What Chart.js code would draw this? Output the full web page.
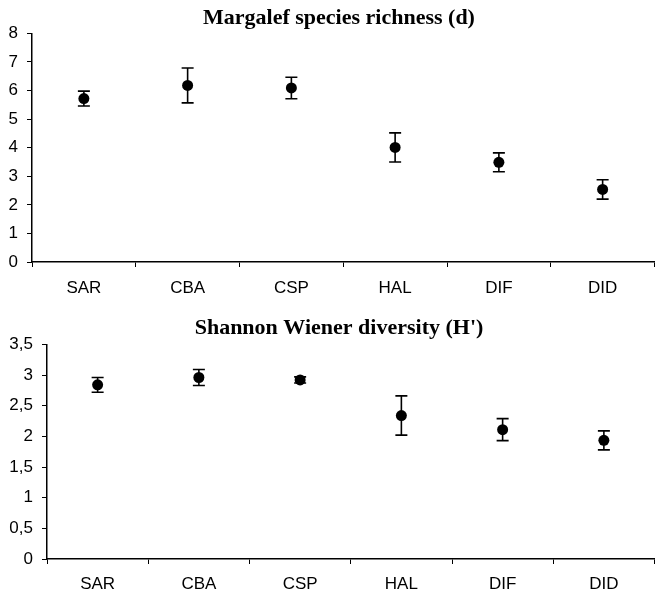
<!DOCTYPE html>
<html>
<head>
<meta charset="utf-8">
<script src="https://cdn.jsdelivr.net/npm/chart.js@4/dist/chart.umd.min.js"></script>
<style>
  html, body { margin: 0; padding: 0; background: #fff; overflow: hidden; width: 656px; height: 591px; }
  .wrap { position: absolute; left: 0; width: 660px; }
  #w1 { top: 0; height: 295px; }
  #w2 { top: 295px; height: 296px; }
  canvas { display: block; }
</style>
</head>
<body>
<div class="wrap" id="w1"><canvas id="c1" width="660" height="295"></canvas></div>
<div class="wrap" id="w2"><canvas id="c2" width="660" height="296"></canvas></div>
<script>
// ---- Data ----
const categories = ["SAR", "CBA", "CSP", "HAL", "DIF", "DID"];

const titleRichness = "Margalef species richness (d)";
const richnessMean = [5.72, 6.18, 6.09, 4.01, 3.49, 2.54];
const richnessErr  = [0.26, 0.61, 0.375, 0.51, 0.33, 0.34];

const titleShannon = "Shannon Wiener diversity (H')";
const shannonMean = [2.84, 2.96, 2.92, 2.34, 2.11, 1.935];
const shannonErr  = [0.12, 0.13, 0.05, 0.32, 0.18, 0.155];

// ---- Error bar plugin (uses the chart's own scales) ----
const errorBars = {
  id: 'errorBars',
  afterDatasetsDraw(chart) {
    const ctx = chart.ctx;
    const yScale = chart.scales.y;
    chart.data.datasets.forEach((ds, di) => {
      const meta = chart.getDatasetMeta(di);
      const errs = ds.errors || [];
      ctx.save();
      ctx.strokeStyle = '#000';
      ctx.lineWidth = 1.6;
      meta.data.forEach((pt, i) => {
        const v = ds.data[i];
        const e = errs[i] || 0;
        const x = pt.x;
        const yt = yScale.getPixelForValue(v + e);
        const yb = yScale.getPixelForValue(v - e);
        const cap = 6;
        ctx.beginPath();
        ctx.moveTo(x, yt); ctx.lineTo(x, yb);
        ctx.moveTo(x - cap, yt); ctx.lineTo(x + cap, yt);
        ctx.moveTo(x - cap, yb); ctx.lineTo(x + cap, yb);
        ctx.stroke();
      });
      ctx.restore();
    });
  }
};

// shift the title block's left edge so its centre sits where the reference has it
const titleShift = {
  id: 'titleShift',
  afterLayout(chart) {
    if (chart.titleBlock) chart.titleBlock.left += 20;
  }
};

function makeChart(id, title, values, errors, yMax, step, yWidth, xHeight, xPad, titlePad, comma) {
  return new Chart(document.getElementById(id), {
    type: 'line',
    data: {
      labels: categories,
      datasets: [{
        data: values,
        errors: errors,
        showLine: false,
        pointRadius: 5.5,
        pointHoverRadius: 5.5,
        pointBackgroundColor: '#000',
        pointBorderColor: '#000',
        pointBorderWidth: 0
      }]
    },
    options: {
      responsive: false,
      animation: false,
      events: [],
      layout: { padding: { left: 0, right: 2, top: 0, bottom: 0 } },
      plugins: {
        legend: { display: false },
        tooltip: { enabled: false },
        title: {
          display: true,
          text: title,
          color: '#000',
          font: { family: 'Liberation Serif', weight: 'bold', size: 22 },
          padding: titlePad
        }
      },
      scales: {
        x: {
          type: 'category',
          offset: true,
          grid: { offset: true, drawOnChartArea: false, drawTicks: true, tickLength: 5, color: '#000', lineWidth: 1 },
          border: { display: true, color: '#000', width: 1.5 },
          ticks: { color: '#000', font: { family: 'Liberation Sans', size: 17 }, padding: xPad, maxRotation: 0 },
          afterFit(scale) { scale.height = xHeight; }
        },
        y: {
          min: 0,
          max: yMax,
          grid: { drawOnChartArea: false, drawTicks: true, tickLength: 5, color: '#000', lineWidth: 1 },
          border: { display: true, color: '#000', width: 1.5 },
          ticks: {
            stepSize: step,
            color: '#000',
            font: { family: 'Liberation Sans', size: 17 },
            padding: 9,
            callback: (v) => comma ? String(v).replace('.', ',') : String(v)
          },
          afterFit(scale) { scale.width = yWidth; }
        }
      }
    },
    plugins: [errorBars, titleShift]
  });
}

makeChart('c1', titleRichness, richnessMean, richnessErr, 8, 1, 32, 33, 11, { top: 5, bottom: 2 }, false);
makeChart('c2', titleShannon, shannonMean, shannonErr, 3.5, 0.5, 47, 32, 10, { top: 20, bottom: 3 }, true);
</script>
</body>
</html>
